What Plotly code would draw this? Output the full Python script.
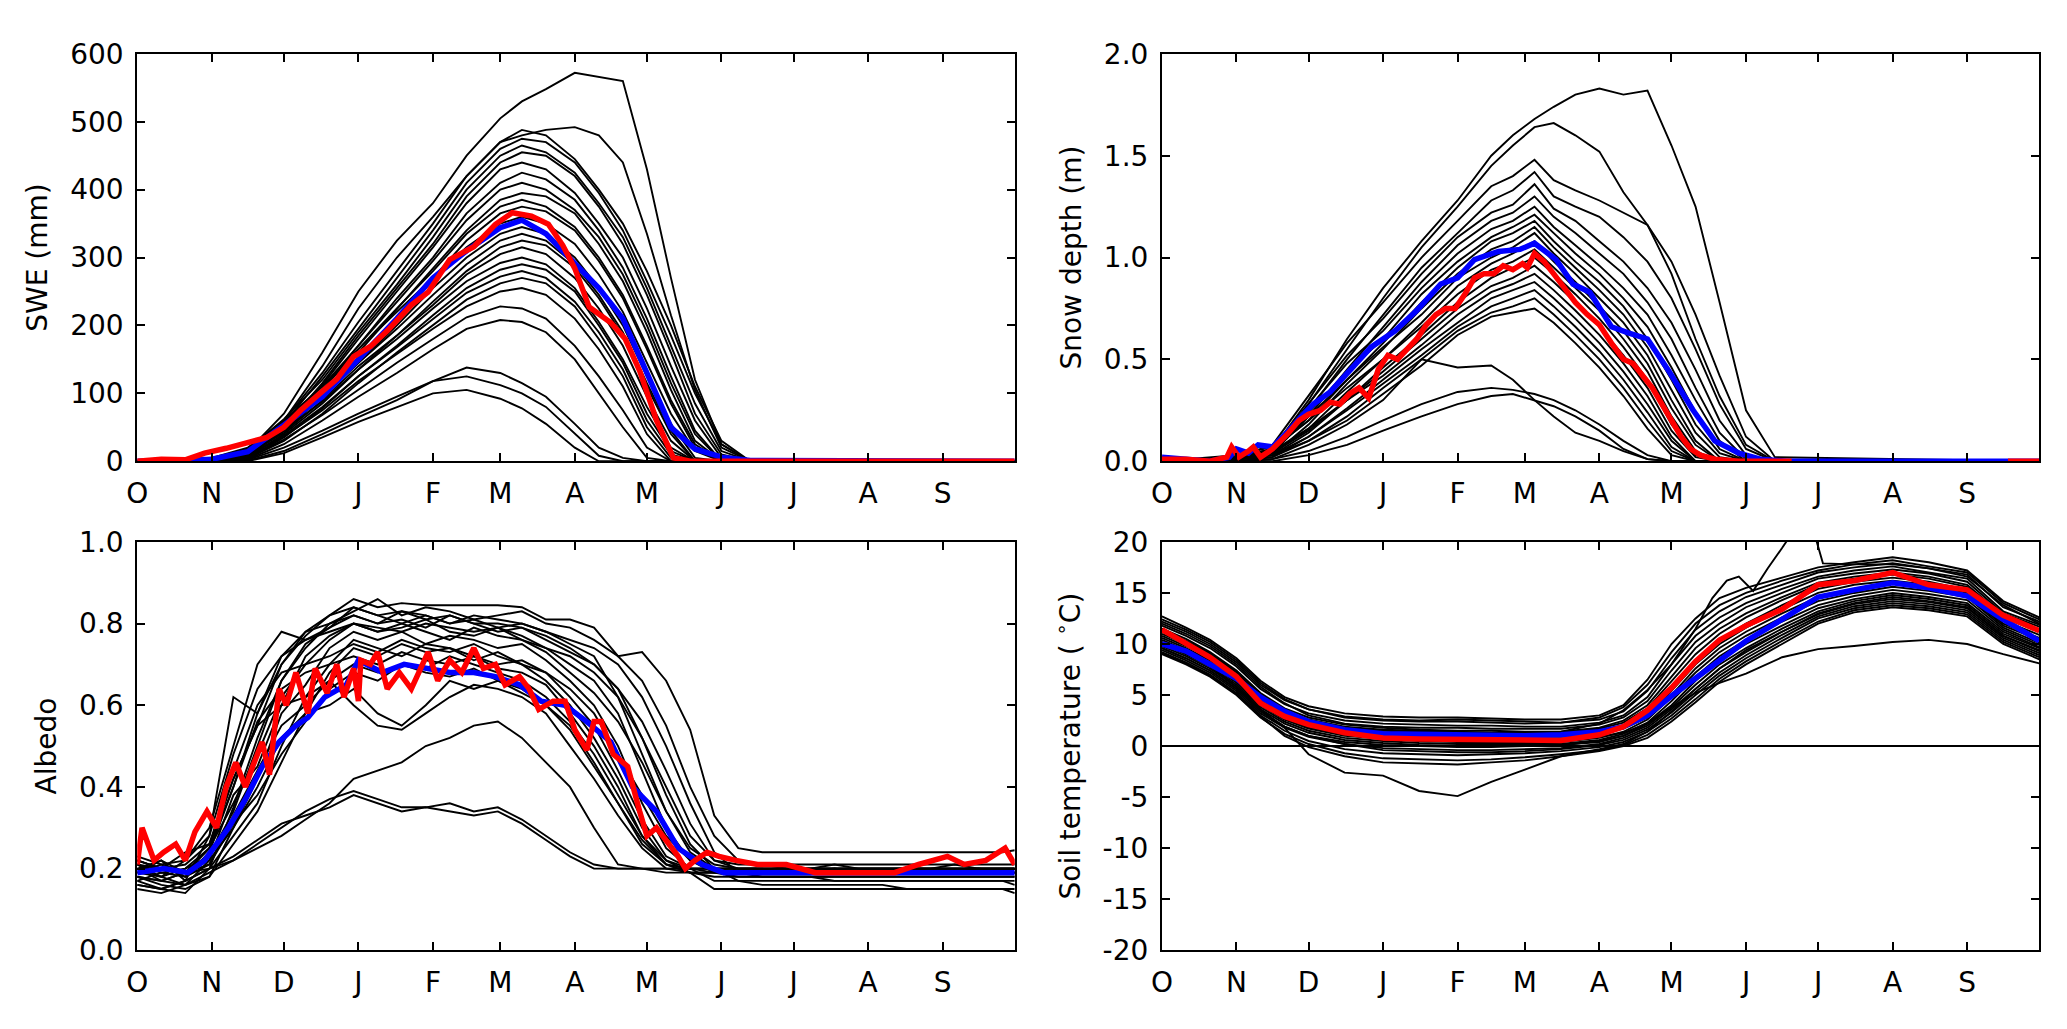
import plotly.graph_objects as go
from plotly.subplots import make_subplots

# hydrological year, day 0 = 1 October
month_days = [0, 31, 61, 92, 123, 151, 182, 212, 243, 273, 304, 335]
month_labels = ["O", "N", "D", "J", "F", "M", "A", "M", "J", "J", "A", "S"]

# ---------------- SWE (mm) ----------------
swe_days = [0, 31, 46, 61, 77, 92, 108, 123, 137, 151, 160, 170, 182, 192, 202, 212, 222, 232, 243, 255, 365]
swe_members = [
    [0, 2, 15, 70, 160, 250, 325, 380, 450, 505, 530, 548, 572, 566, 560, 430, 270, 120, 25, 0, 0],
    [0, 2, 12, 60, 140, 225, 300, 360, 420, 470, 480, 488, 492, 480, 440, 335, 215, 105, 20, 0, 0],
    [0, 3, 15, 60, 130, 205, 280, 350, 420, 470, 488, 480, 445, 400, 350, 280, 200, 110, 30, 0, 0],
    [0, 2, 12, 55, 125, 195, 270, 340, 410, 460, 475, 470, 440, 395, 340, 265, 185, 100, 25, 0, 0],
    [0, 4, 18, 62, 120, 190, 260, 330, 400, 450, 465, 455, 425, 380, 330, 255, 170, 85, 15, 0, 0],
    [0, 2, 10, 50, 115, 185, 255, 320, 390, 440, 455, 450, 420, 375, 320, 245, 160, 70, 10, 0, 0],
    [0, 3, 14, 55, 112, 180, 250, 315, 380, 430, 440, 430, 395, 350, 300, 225, 140, 60, 5, 0, 0],
    [0, 2, 10, 48, 105, 170, 240, 300, 365, 410, 425, 415, 385, 340, 285, 210, 125, 45, 0, 0, 0],
    [0, 5, 20, 58, 110, 170, 235, 295, 355, 400, 410, 400, 370, 330, 275, 200, 115, 40, 0, 0, 0],
    [0, 2, 12, 50, 100, 160, 225, 285, 340, 385, 395, 390, 365, 320, 265, 190, 105, 30, 0, 0, 0],
    [0, 3, 15, 55, 105, 165, 225, 280, 335, 375, 385, 375, 345, 300, 245, 170, 90, 25, 0, 0, 0],
    [0, 1, 8, 45, 95, 150, 210, 270, 325, 365, 375, 368, 340, 295, 240, 165, 85, 20, 0, 0, 0],
    [0, 4, 18, 60, 110, 165, 220, 270, 315, 350, 360, 350, 320, 275, 220, 145, 70, 15, 0, 0, 0],
    [0, 2, 10, 45, 95, 145, 200, 255, 300, 335, 345, 335, 300, 255, 200, 125, 55, 5, 0, 0, 0],
    [0, 3, 14, 50, 95, 145, 195, 245, 290, 325, 335, 325, 290, 245, 190, 115, 45, 0, 0, 0, 0],
    [0, 1, 6, 40, 85, 135, 185, 235, 280, 315, 325, 318, 285, 240, 185, 110, 40, 0, 0, 0, 0],
    [0, 2, 10, 42, 90, 140, 185, 230, 275, 305, 315, 305, 270, 225, 170, 95, 30, 0, 0, 0, 0],
    [0, 3, 12, 45, 88, 135, 180, 225, 265, 292, 300, 290, 255, 205, 150, 80, 20, 0, 0, 0, 0],
    [0, 1, 5, 35, 78, 125, 170, 215, 255, 282, 290, 282, 250, 200, 145, 70, 15, 0, 0, 0, 0],
    [0, 2, 8, 38, 80, 125, 168, 210, 248, 272, 280, 270, 235, 190, 135, 60, 10, 0, 0, 0, 0],
    [0, 0, 4, 30, 70, 115, 160, 200, 238, 262, 270, 262, 228, 180, 125, 50, 5, 0, 0, 0, 0],
    [0, 2, 9, 36, 75, 118, 158, 195, 228, 250, 255, 245, 210, 165, 110, 40, 0, 0, 0, 0, 0],
    [0, 1, 6, 32, 68, 105, 145, 180, 212, 228, 225, 210, 170, 125, 75, 20, 0, 0, 0, 0, 0],
    [0, 0, 3, 25, 60, 95, 130, 165, 195, 208, 205, 190, 150, 100, 50, 5, 0, 0, 0, 0, 0],
    [0, 0, 2, 20, 45, 70, 95, 118, 138, 130, 115, 95, 55, 20, 5, 0, 0, 0, 0, 0, 0],
    [0, 0, 1, 15, 40, 65, 90, 118, 125, 112, 100, 80, 40, 8, 0, 0, 0, 0, 0, 0, 0],
    [0, 0, 0, 12, 35, 58, 80, 100, 105, 92, 78, 55, 20, 0, 0, 0, 0, 0, 0, 0, 0],
]
swe_mean = [0, 3, 14, 52, 95, 150, 210, 270, 310, 344, 355, 335, 290, 255, 210, 130, 50, 18, 6, 1, 0]
swe_obs_days = [0, 10, 20, 28, 37, 45, 54, 61, 68, 76, 83, 90, 97, 104, 114, 121, 130, 140, 149, 156,
                164, 171, 177, 182, 188, 197, 203, 209, 216, 223, 230, 365]
swe_obs = [0, 3, 2, 12, 19, 26, 35, 50, 75, 100, 121, 154, 169, 192, 230, 249, 297, 316, 349, 366,
           361, 349, 318, 284, 227, 204, 180, 133, 60, 5, 0, 0]

# ---------------- Snow depth (m) ----------------
depth_days = [0, 31, 46, 61, 77, 92, 108, 123, 137, 146, 155, 163, 172, 182, 192, 202, 212, 222, 232, 243, 255, 365]
depth_members = [
    [0, 0.01, 0.06, 0.30, 0.60, 0.85, 1.08, 1.28, 1.50, 1.60, 1.68, 1.74, 1.80, 1.83, 1.80, 1.82, 1.55, 1.25, 0.78, 0.25, 0.02, 0],
    [0, 0.01, 0.05, 0.28, 0.55, 0.80, 1.05, 1.25, 1.45, 1.55, 1.64, 1.66, 1.60, 1.52, 1.32, 1.16, 0.92, 0.60, 0.32, 0.08, 0, 0],
    [0, 0.02, 0.08, 0.32, 0.58, 0.78, 1.00, 1.18, 1.35, 1.40, 1.48, 1.38, 1.33, 1.28, 1.22, 1.16, 0.98, 0.72, 0.42, 0.12, 0, 0],
    [0, 0.01, 0.05, 0.25, 0.50, 0.72, 0.95, 1.12, 1.28, 1.33, 1.42, 1.30, 1.25, 1.20, 1.10, 0.98, 0.80, 0.55, 0.28, 0.06, 0, 0],
    [0, 0.02, 0.06, 0.28, 0.52, 0.70, 0.92, 1.10, 1.22, 1.26, 1.36, 1.24, 1.18, 1.08, 0.98, 0.85, 0.68, 0.45, 0.20, 0.03, 0, 0],
    [0, 0.01, 0.04, 0.22, 0.45, 0.66, 0.88, 1.06, 1.18, 1.22, 1.30, 1.20, 1.12, 1.02, 0.92, 0.78, 0.60, 0.36, 0.14, 0.01, 0, 0],
    [0, 0.03, 0.07, 0.26, 0.48, 0.64, 0.85, 1.02, 1.14, 1.18, 1.25, 1.15, 1.06, 0.96, 0.85, 0.72, 0.52, 0.30, 0.10, 0, 0, 0],
    [0, 0.01, 0.05, 0.24, 0.44, 0.60, 0.82, 0.98, 1.10, 1.15, 1.21, 1.12, 1.02, 0.92, 0.80, 0.66, 0.46, 0.24, 0.06, 0, 0, 0],
    [0, 0.02, 0.06, 0.20, 0.40, 0.58, 0.78, 0.95, 1.08, 1.12, 1.18, 1.08, 0.98, 0.88, 0.76, 0.60, 0.40, 0.18, 0.04, 0, 0, 0],
    [0, 0.01, 0.03, 0.18, 0.38, 0.55, 0.75, 0.92, 1.04, 1.08, 1.15, 1.05, 0.95, 0.84, 0.72, 0.56, 0.35, 0.14, 0.02, 0, 0, 0],
    [0, 0.02, 0.05, 0.22, 0.40, 0.56, 0.72, 0.90, 1.00, 1.05, 1.12, 1.02, 0.92, 0.80, 0.68, 0.52, 0.30, 0.10, 0, 0, 0, 0],
    [0, 0.01, 0.04, 0.16, 0.34, 0.50, 0.68, 0.86, 0.97, 1.02, 1.08, 0.98, 0.88, 0.76, 0.64, 0.48, 0.26, 0.08, 0, 0, 0, 0],
    [0, 0.02, 0.06, 0.20, 0.36, 0.50, 0.66, 0.82, 0.94, 0.98, 1.04, 0.95, 0.85, 0.74, 0.60, 0.44, 0.22, 0.05, 0, 0, 0, 0],
    [0, 0.01, 0.03, 0.14, 0.30, 0.46, 0.62, 0.78, 0.90, 0.95, 1.00, 0.92, 0.82, 0.70, 0.56, 0.40, 0.18, 0.03, 0, 0, 0, 0],
    [0, 0.01, 0.04, 0.15, 0.30, 0.44, 0.60, 0.75, 0.86, 0.90, 0.96, 0.88, 0.78, 0.66, 0.52, 0.36, 0.15, 0.02, 0, 0, 0, 0],
    [0, 0.02, 0.05, 0.16, 0.30, 0.42, 0.57, 0.72, 0.83, 0.87, 0.92, 0.84, 0.74, 0.62, 0.48, 0.32, 0.12, 0, 0, 0, 0, 0],
    [0, 0.01, 0.02, 0.12, 0.26, 0.40, 0.55, 0.68, 0.80, 0.84, 0.88, 0.80, 0.70, 0.58, 0.44, 0.28, 0.10, 0, 0, 0, 0, 0],
    [0, 0.01, 0.03, 0.12, 0.25, 0.38, 0.52, 0.66, 0.76, 0.80, 0.84, 0.76, 0.66, 0.54, 0.40, 0.24, 0.07, 0, 0, 0, 0, 0],
    [0, 0.00, 0.02, 0.10, 0.22, 0.36, 0.50, 0.64, 0.73, 0.76, 0.80, 0.72, 0.62, 0.50, 0.36, 0.20, 0.05, 0, 0, 0, 0, 0],
    [0, 0.01, 0.03, 0.10, 0.20, 0.33, 0.47, 0.62, 0.71, 0.73, 0.75, 0.68, 0.58, 0.46, 0.32, 0.16, 0.03, 0, 0, 0, 0, 0],
    [0, 0, 0.01, 0.08, 0.18, 0.30, 0.50, 0.46, 0.47, 0.40, 0.30, 0.22, 0.14, 0.10, 0.05, 0.01, 0, 0, 0, 0, 0, 0],
    [0, 0, 0.01, 0.05, 0.12, 0.20, 0.28, 0.34, 0.36, 0.35, 0.33, 0.30, 0.25, 0.18, 0.10, 0.03, 0, 0, 0, 0, 0, 0],
    [0, 0, 0, 0.03, 0.08, 0.15, 0.22, 0.28, 0.32, 0.33, 0.30, 0.27, 0.22, 0.15, 0.06, 0.01, 0, 0, 0, 0, 0, 0],
]
depth_mean_days = [0, 8, 20, 28, 31, 36, 40, 46, 52, 58, 63, 70, 76, 87, 97, 106, 116, 123, 130, 140,
                   149, 155, 164, 171, 178, 187, 194, 202, 211, 221, 230, 240, 249, 260, 365]
depth_mean = [0.02, 0.01, 0.0, 0.02, 0.06, 0.04, 0.08, 0.07, 0.14, 0.22, 0.28, 0.34, 0.42, 0.56, 0.64,
              0.74, 0.87, 0.90, 0.99, 1.03, 1.04, 1.07, 0.99, 0.87, 0.83, 0.66, 0.63, 0.60, 0.44, 0.25,
              0.10, 0.04, 0.01, 0.0, 0.0]
depth_obs_days = [0, 10, 20, 27, 29, 32, 36, 38, 41, 46, 52, 57, 61, 66, 70, 74, 78, 82, 86, 90,
                  94, 98, 102, 106, 110, 114, 118, 122, 126, 130, 134, 138, 142, 146, 150, 152, 155, 159,
                  163, 167, 172, 177, 182, 187, 192, 196, 200, 204, 208, 212, 216, 220, 224, 230, 240,
                  262, 263, 352, 365]
depth_obs = [0.01, 0.01, 0.0, 0.02, 0.07, 0.02, 0.05, 0.07, 0.02, 0.06, 0.13, 0.20, 0.23, 0.25, 0.29,
             0.28, 0.33, 0.36, 0.31, 0.45, 0.52, 0.50, 0.55, 0.60, 0.67, 0.72, 0.75, 0.75, 0.82, 0.90,
             0.92, 0.92, 0.96, 0.94, 0.97, 0.95, 1.02, 0.98, 0.92, 0.86, 0.78, 0.72, 0.67, 0.58, 0.50,
             0.48, 0.42, 0.36, 0.28, 0.20, 0.12, 0.06, 0.03, 0.01, 0.0, 0.0, None, 0.0, 0.0]

# ---------------- Albedo ----------------
albedo_days = [0, 10, 20, 30, 40, 50, 60, 70, 80, 90, 100, 110, 120, 130, 140, 150, 160, 170, 180,
               190, 200, 210, 220, 230, 240, 250, 260, 270, 280, 290, 300, 310, 320, 330, 340, 350,
               360, 365]
albedo_members = [
    [0.22, 0.20, 0.19, 0.25, 0.42, 0.55, 0.70, 0.78, 0.82, 0.86, 0.84, 0.85, 0.845, 0.845, 0.845, 0.845, 0.84, 0.81, 0.81, 0.79,
     0.72, 0.73, 0.66, 0.54, 0.33, 0.25, 0.24, 0.24, 0.24, 0.24, 0.24, 0.24, 0.24, 0.24, 0.24, 0.24, 0.24, 0.245],
    [0.19, 0.22, 0.17, 0.28, 0.62, 0.58, 0.72, 0.78, 0.80, 0.83, 0.86, 0.82, 0.84, 0.83, 0.81, 0.82, 0.83, 0.80, 0.79, 0.76,
     0.72, 0.66, 0.55, 0.40, 0.28, 0.22, 0.21, 0.20, 0.20, 0.21, 0.20, 0.20, 0.20, 0.20, 0.21, 0.20, 0.20, 0.20],
    [0.17, 0.15, 0.14, 0.20, 0.35, 0.52, 0.66, 0.75, 0.79, 0.82, 0.80, 0.81, 0.79, 0.82, 0.80, 0.78, 0.79, 0.77, 0.74, 0.70,
     0.64, 0.52, 0.38, 0.26, 0.20, 0.17, 0.16, 0.16, 0.16, 0.16, 0.16, 0.16, 0.15, 0.15, 0.15, 0.15, 0.15, 0.15],
    [0.21, 0.18, 0.22, 0.30, 0.50, 0.70, 0.78, 0.76, 0.79, 0.84, 0.82, 0.80, 0.82, 0.80, 0.81, 0.79, 0.80, 0.78, 0.75, 0.72,
     0.62, 0.48, 0.34, 0.25, 0.21, 0.20, 0.20, 0.19, 0.19, 0.20, 0.19, 0.19, 0.19, 0.19, 0.19, 0.20, 0.19, 0.19],
    [0.20, 0.17, 0.19, 0.22, 0.38, 0.45, 0.60, 0.72, 0.77, 0.80, 0.78, 0.79, 0.81, 0.78, 0.77, 0.79, 0.76, 0.74, 0.70, 0.66,
     0.58, 0.44, 0.30, 0.22, 0.19, 0.18, 0.18, 0.18, 0.18, 0.18, 0.18, 0.18, 0.18, 0.18, 0.18, 0.18, 0.18, 0.18],
    [0.18, 0.16, 0.15, 0.18, 0.30, 0.42, 0.58, 0.65, 0.74, 0.78, 0.76, 0.78, 0.75, 0.77, 0.76, 0.74, 0.75, 0.71, 0.66, 0.60,
     0.50, 0.36, 0.25, 0.20, 0.17, 0.17, 0.17, 0.17, 0.17, 0.17, 0.17, 0.17, 0.17, 0.17, 0.17, 0.17, 0.17, 0.17],
    [0.22, 0.20, 0.24, 0.26, 0.44, 0.60, 0.68, 0.70, 0.72, 0.75, 0.73, 0.76, 0.74, 0.73, 0.75, 0.72, 0.70, 0.68, 0.62, 0.55,
     0.44, 0.32, 0.23, 0.20, 0.20, 0.20, 0.20, 0.20, 0.20, 0.20, 0.20, 0.20, 0.20, 0.20, 0.20, 0.20, 0.20, 0.20],
    [0.19, 0.21, 0.18, 0.24, 0.40, 0.56, 0.64, 0.68, 0.70, 0.72, 0.70, 0.73, 0.71, 0.70, 0.72, 0.69, 0.68, 0.65, 0.58, 0.50,
     0.40, 0.28, 0.21, 0.20, 0.19, 0.19, 0.19, 0.19, 0.19, 0.19, 0.19, 0.19, 0.19, 0.19, 0.19, 0.19, 0.19, 0.19],
    [0.16, 0.15, 0.17, 0.20, 0.28, 0.36, 0.50, 0.62, 0.70, 0.76, 0.74, 0.72, 0.75, 0.74, 0.71, 0.73, 0.70, 0.66, 0.60, 0.52,
     0.42, 0.30, 0.22, 0.19, 0.18, 0.18, 0.18, 0.18, 0.18, 0.18, 0.18, 0.18, 0.18, 0.18, 0.18, 0.18, 0.18, 0.18],
    [0.21, 0.19, 0.20, 0.25, 0.36, 0.48, 0.62, 0.70, 0.76, 0.80, 0.78, 0.80, 0.78, 0.76, 0.79, 0.77, 0.76, 0.73, 0.68, 0.63,
     0.56, 0.46, 0.34, 0.24, 0.20, 0.19, 0.19, 0.19, 0.19, 0.19, 0.19, 0.19, 0.19, 0.19, 0.19, 0.19, 0.19, 0.19],
    [0.20, 0.22, 0.19, 0.21, 0.33, 0.44, 0.55, 0.60, 0.66, 0.70, 0.68, 0.70, 0.69, 0.72, 0.70, 0.68, 0.66, 0.62, 0.56, 0.48,
     0.38, 0.28, 0.22, 0.20, 0.20, 0.20, 0.20, 0.20, 0.20, 0.20, 0.20, 0.20, 0.20, 0.20, 0.20, 0.20, 0.20, 0.20],
    [0.18, 0.17, 0.16, 0.22, 0.30, 0.40, 0.52, 0.58, 0.60, 0.64, 0.58, 0.55, 0.60, 0.66, 0.64, 0.66, 0.63, 0.60, 0.55, 0.46,
     0.36, 0.26, 0.21, 0.19, 0.19, 0.19, 0.19, 0.19, 0.19, 0.19, 0.19, 0.19, 0.19, 0.19, 0.19, 0.19, 0.19, 0.19],
    [0.22, 0.20, 0.21, 0.26, 0.42, 0.55, 0.60, 0.62, 0.66, 0.60, 0.55, 0.54, 0.58, 0.62, 0.65, 0.64, 0.62, 0.58, 0.50, 0.42,
     0.33, 0.25, 0.20, 0.19, 0.19, 0.19, 0.19, 0.19, 0.19, 0.19, 0.19, 0.19, 0.19, 0.19, 0.19, 0.19, 0.19, 0.19],
    [0.19, 0.18, 0.20, 0.23, 0.34, 0.50, 0.66, 0.74, 0.80, 0.82, 0.80, 0.83, 0.82, 0.80, 0.82, 0.81, 0.80, 0.78, 0.76, 0.74,
     0.70, 0.62, 0.50, 0.36, 0.24, 0.19, 0.18, 0.18, 0.18, 0.17, 0.17, 0.17, 0.17, 0.17, 0.17, 0.17, 0.17, 0.16],
    [0.20, 0.18, 0.16, 0.18, 0.26, 0.34, 0.46, 0.58, 0.68, 0.74, 0.72, 0.75, 0.73, 0.74, 0.72, 0.70, 0.71, 0.68, 0.64, 0.58,
     0.48, 0.38, 0.28, 0.22, 0.20, 0.20, 0.20, 0.20, 0.20, 0.20, 0.20, 0.20, 0.20, 0.20, 0.20, 0.20, 0.20, 0.20],
    [0.23, 0.21, 0.22, 0.28, 0.48, 0.64, 0.72, 0.76, 0.78, 0.80, 0.79, 0.78, 0.80, 0.79, 0.78, 0.79, 0.77, 0.74, 0.72, 0.68,
     0.62, 0.52, 0.40, 0.28, 0.22, 0.21, 0.21, 0.21, 0.21, 0.21, 0.21, 0.21, 0.21, 0.21, 0.21, 0.21, 0.21, 0.21],
    [0.17, 0.19, 0.18, 0.21, 0.31, 0.38, 0.48, 0.56, 0.64, 0.68, 0.66, 0.70, 0.68, 0.67, 0.69, 0.66, 0.64, 0.60, 0.54, 0.45,
     0.36, 0.27, 0.21, 0.19, 0.15, 0.15, 0.15, 0.15, 0.15, 0.15, 0.15, 0.15, 0.15, 0.15, 0.15, 0.15, 0.15, 0.14],
    [0.21, 0.20, 0.19, 0.25, 0.40, 0.58, 0.70, 0.77, 0.82, 0.84, 0.82, 0.83, 0.81, 0.82, 0.80, 0.80, 0.79, 0.76, 0.73, 0.70,
     0.64, 0.56, 0.44, 0.31, 0.22, 0.20, 0.20, 0.20, 0.20, 0.20, 0.20, 0.20, 0.20, 0.20, 0.20, 0.20, 0.20, 0.20],
    [0.15, 0.14, 0.16, 0.19, 0.22, 0.26, 0.30, 0.34, 0.37, 0.39, 0.37, 0.35, 0.35, 0.36, 0.34, 0.35, 0.32, 0.28, 0.24, 0.21,
     0.20, 0.20, 0.19, 0.19, 0.19, 0.19, 0.19, 0.19, 0.19, 0.19, 0.19, 0.19, 0.19, 0.19, 0.19, 0.19, 0.19, 0.19],
    [0.16, 0.15, 0.17, 0.20, 0.23, 0.27, 0.31, 0.33, 0.35, 0.38, 0.36, 0.34, 0.35, 0.34, 0.33, 0.34, 0.31, 0.27, 0.23, 0.20,
     0.20, 0.20, 0.20, 0.20, 0.20, 0.20, 0.20, 0.20, 0.20, 0.20, 0.20, 0.20, 0.20, 0.20, 0.20, 0.20, 0.20, 0.20],
    [0.18, 0.17, 0.19, 0.20, 0.22, 0.25, 0.28, 0.32, 0.36, 0.42, 0.44, 0.46, 0.50, 0.52, 0.55, 0.56, 0.52, 0.46, 0.40, 0.30,
     0.21, 0.20, 0.20, 0.20, 0.20, 0.20, 0.20, 0.20, 0.20, 0.20, 0.20, 0.20, 0.20, 0.20, 0.20, 0.20, 0.20, 0.20],
]
albedo_mean_days = [0, 11, 21, 28, 38, 45, 52, 59, 66, 71, 78, 87, 92, 102, 111, 121, 130, 140, 149,
                    159, 168, 178, 187, 197, 206, 216, 225, 235, 244, 259, 365]
albedo_mean = [0.19, 0.20, 0.19, 0.22, 0.30, 0.37, 0.45, 0.51, 0.55, 0.57, 0.62, 0.65, 0.71, 0.68,
               0.70, 0.69, 0.68, 0.68, 0.67, 0.65, 0.61, 0.60, 0.56, 0.51, 0.40, 0.34, 0.25, 0.21, 0.19,
               0.19, 0.19]
albedo_obs_days = [0, 2, 7, 11, 16, 20, 24, 29, 33, 37, 41, 45, 48, 52, 55, 59, 62, 66, 71, 74, 79,
                   83, 86, 90, 92, 93, 97, 100, 104, 109, 114, 121, 125, 130, 135, 140, 144, 149, 153,
                   159, 163, 167, 173, 178, 182, 187, 190, 193, 198, 204, 209, 212, 216, 220, 225, 228,
                   232, 237, 242, 249, 258, 270, 282, 294, 306, 315, 325, 337, 344, 353, 361, 365]
albedo_obs = [0.21, 0.30, 0.22, 0.24, 0.26, 0.22, 0.29, 0.34, 0.30, 0.40, 0.46, 0.40, 0.45, 0.51,
              0.43, 0.64, 0.60, 0.68, 0.58, 0.69, 0.63, 0.70, 0.62, 0.69, 0.61, 0.71, 0.70, 0.73,
              0.64, 0.68, 0.64, 0.73, 0.66, 0.71, 0.68, 0.74, 0.69, 0.70, 0.65, 0.67, 0.64, 0.59,
              0.61, 0.61, 0.54, 0.49, 0.56, 0.56, 0.48, 0.45, 0.34, 0.28, 0.30, 0.27, 0.23, 0.20,
              0.22, 0.24, 0.23, 0.22, 0.21, 0.21, 0.19, 0.19, 0.19, 0.19, 0.21, 0.23, 0.21, 0.22,
              0.25, 0.21]

# ---------------- Soil temperature (deg C) ----------------
soil_days = [0, 10, 20, 31, 41, 51, 61, 76, 92, 107, 123, 137, 151, 166, 182, 192, 202, 212, 222, 232,
             243, 258, 273, 288, 304, 319, 335, 350, 365]
soil_members = [
    [12.7, 11.6, 10.4, 8.6, 6.4, 4.8, 3.9, 3.2, 2.9, 2.8, 2.8, 2.7, 2.6, 2.6, 3.0, 4.0, 6.5, 10.0, 12.5, 14.5, 15.5, 16.5, 17.5, 18.0, 18.5, 18.0, 17.2, 14.2, 12.6],
    [12.4, 11.4, 10.2, 8.4, 6.2, 4.6, 3.6, 2.8, 2.5, 2.4, 2.4, 2.3, 2.2, 2.3, 2.8, 3.8, 6.0, 9.2, 12.0, 13.8, 15.0, 16.2, 17.2, 17.8, 18.2, 17.6, 17.0, 14.0, 12.4],
    [12.2, 11.2, 10.0, 8.2, 6.0, 4.5, 3.6, 2.9, 2.6, 2.5, 2.6, 2.5, 2.4, 2.3, 2.6, 3.4, 5.4, 8.6, 11.4, 13.2, 14.6, 15.8, 17.0, 17.5, 17.9, 17.4, 16.8, 13.6, 12.2],
    [11.8, 10.8, 9.6, 7.8, 5.6, 4.1, 3.2, 2.5, 2.2, 2.1, 2.0, 2.0, 1.9, 1.9, 2.3, 3.0, 4.8, 8.0, 10.8, 12.6, 14.0, 15.4, 16.6, 17.2, 17.6, 17.0, 16.4, 13.2, 11.9],
    [12.0, 11.0, 9.8, 8.0, 5.8, 4.2, 3.0, 2.2, 1.9, 1.8, 1.8, 1.7, 1.7, 1.7, 2.1, 2.8, 4.4, 7.4, 10.2, 12.0, 13.6, 15.0, 16.4, 16.9, 17.3, 16.9, 16.1, 13.0, 11.7],
    [11.5, 10.5, 9.2, 7.4, 5.2, 3.7, 2.8, 2.1, 1.8, 1.6, 1.5, 1.5, 1.4, 1.4, 1.8, 2.5, 4.0, 6.8, 9.6, 11.5, 13.0, 14.6, 16.0, 16.6, 17.0, 16.6, 15.8, 12.8, 11.4],
    [11.3, 10.3, 9.1, 7.3, 5.1, 3.5, 2.6, 1.9, 1.6, 1.5, 1.4, 1.3, 1.3, 1.3, 1.7, 2.3, 3.7, 6.4, 9.0, 11.0, 12.6, 14.3, 15.8, 16.4, 16.8, 16.4, 15.6, 12.6, 11.2],
    [11.0, 10.0, 8.8, 7.0, 4.8, 3.3, 2.4, 1.7, 1.3, 1.2, 1.1, 1.0, 1.0, 1.0, 1.4, 2.0, 3.3, 5.8, 8.4, 10.4, 12.0, 13.8, 15.4, 16.1, 16.5, 16.1, 15.3, 12.3, 10.9],
    [10.6, 9.6, 8.4, 6.6, 4.4, 2.9, 2.0, 1.3, 1.0, 0.9, 0.8, 0.7, 0.7, 0.7, 1.1, 1.8, 3.0, 5.4, 8.0, 10.0, 11.6, 13.4, 15.0, 15.8, 16.2, 15.8, 15.0, 12.0, 10.6],
    [10.8, 9.8, 8.6, 6.8, 4.6, 3.0, 2.1, 1.5, 1.2, 1.1, 1.0, 1.0, 0.9, 0.9, 1.2, 1.7, 2.8, 5.0, 7.6, 9.6, 11.2, 13.0, 14.6, 15.4, 15.9, 15.5, 14.8, 11.8, 10.4],
    [10.2, 9.2, 8.0, 6.2, 4.0, 2.6, 1.7, 1.0, 0.7, 0.5, 0.4, 0.3, 0.3, 0.4, 0.8, 1.4, 2.6, 4.8, 7.2, 9.2, 10.8, 12.6, 14.2, 15.0, 15.6, 15.2, 14.6, 11.6, 10.1],
    [10.0, 9.0, 7.8, 6.0, 3.8, 2.4, 1.5, 0.8, 0.5, 0.3, 0.2, 0.2, 0.2, 0.2, 0.6, 1.2, 2.3, 4.4, 6.8, 8.8, 10.4, 12.2, 13.8, 14.7, 15.3, 14.9, 14.3, 11.4, 9.9],
    [10.4, 9.4, 8.2, 6.4, 4.2, 2.7, 1.8, 1.1, 0.8, 0.6, 0.5, 0.5, 0.4, 0.5, 0.9, 1.3, 2.2, 4.0, 6.4, 8.4, 10.0, 11.8, 13.5, 14.4, 15.0, 14.6, 14.0, 11.2, 9.7],
    [9.8, 8.8, 7.6, 5.8, 3.6, 2.2, 1.3, 0.6, 0.3, 0.1, 0.0, 0.0, 0.0, 0.1, 0.5, 1.0, 2.0, 3.8, 6.0, 8.0, 9.6, 11.5, 13.2, 14.2, 14.8, 14.4, 13.8, 11.0, 9.6],
    [10.0, 9.0, 7.8, 5.8, 3.6, 1.8, -0.8, -2.6, -2.9, -4.4, -4.9, -3.5, -2.3, -1.0, -0.3, 0.2, 1.4, 3.4, 5.6, 7.6, 9.4, 11.2, 13.0, 14.0, 14.6, 14.2, 13.6, 10.8, 9.4],
    [9.4, 8.4, 7.2, 5.4, 3.2, 1.8, 0.9, 0.2, -0.2, -0.3, -0.4, -0.4, -0.3, -0.2, 0.2, 0.8, 1.8, 3.6, 5.6, 7.6, 9.2, 11.2, 12.9, 13.9, 14.4, 14.1, 13.5, 10.8, 9.3],
    [9.6, 8.6, 7.4, 5.6, 3.4, 1.9, 1.0, 0.2, -0.4, -0.5, -0.6, -0.6, -0.5, -0.3, 0.1, 0.6, 1.6, 3.3, 5.3, 7.2, 8.9, 10.9, 12.7, 13.7, 14.2, 13.9, 13.3, 10.6, 9.1],
    [9.2, 8.2, 7.0, 5.2, 3.0, 1.5, 0.5, -0.3, -0.7, -0.8, -0.9, -0.8, -0.7, -0.5, -0.1, 0.4, 1.4, 3.0, 5.0, 6.9, 8.6, 10.6, 12.5, 13.5, 14.0, 13.7, 13.1, 10.4, 8.9],
    [9.0, 8.0, 6.8, 5.0, 2.8, 1.2, 0.2, -0.7, -1.2, -1.3, -1.4, -1.3, -1.1, -0.8, -0.4, 0.1, 1.1, 2.7, 4.6, 6.6, 8.3, 10.3, 12.2, 13.3, 13.8, 13.5, 12.9, 10.2, 8.7],
    [9.1, 8.1, 6.9, 5.1, 2.9, 1.0, -0.1, -1.0, -1.6, -1.7, -1.8, -1.6, -1.4, -1.0, -0.5, 0.0, 0.8, 2.4, 4.3, 6.3, 8.0, 10.0, 12.0, 13.1, 13.6, 13.3, 12.7, 10.0, 8.5],
    [9.6, 8.6, 7.4, 5.6, 3.4, 1.9, 1.0, 0.4, 0.1, 0.0, -0.1, -0.1, 0.0, 0.1, 0.4, 1.0, 2.2, 3.8, 5.2, 6.2, 7.1, 8.7, 9.5, 9.8, 10.2, 10.4, 10.0, 9.0, 8.1],
]
# one member overheats in early summer and leaves the axis range
soil_hot_days = [0, 10, 20, 31, 41, 51, 61, 76, 92, 107, 123, 137, 151, 166, 182, 192, 202, 212,
                 222, 229, 235, 240, 246, 252, 258, 264, 270, 275, 288, 304, 319, 335, 350, 365]
soil_hot = [11.2, 10.2, 9.0, 7.2, 5.0, 3.4, 2.5, 1.8, 1.5, 1.4, 1.3, 1.2, 1.2, 1.4, 2.2, 3.5, 5.5,
            8.0, 11.5, 14.5, 16.2, 16.6, 15.2, 17.4, 19.4, 21.5, 22.0, 17.9, 17.8, 17.8, 17.4, 16.6,
            13.8, 12.0]
soil_mean = [10.0, 9.3, 8.0, 6.6, 4.8, 3.4, 2.4, 1.6, 1.2, 1.15, 1.1, 1.0, 1.0, 1.1, 1.4, 1.9, 3.0,
             4.9, 6.6, 8.4, 10.3, 12.4, 14.6, 15.3, 16.0, 15.5, 14.7, 12.4, 10.3]
soil_obs = [11.4, 10.1, 8.7, 6.8, 4.2, 2.9, 2.1, 1.3, 0.8, 0.7, 0.66, 0.57, 0.52, 0.55, 1.1, 1.9, 3.5,
            5.7, 8.3, 10.4, 11.8, 13.4, 15.8, 16.2, 17.0, 15.8, 15.3, 12.8, 11.3]
soil_ticks = [-20, -15, -10, -5, 0, 5, 10, 15, 20]
soil_ticktext = ["-20", "-15", "-10", "-5", "0", "5", "10", "15", "20"]

FONT = "DejaVu Sans"
BLACK_W = 1.9
THICK_W = 5.5


def add_panel(fig, row, col, days, members, mean_x, mean_y, obs_x, obs_y):
    for m in members:
        fig.add_trace(go.Scatter(x=days, y=m, mode="lines", hoverinfo="skip",
                                 line=dict(color="black", width=BLACK_W)), row=row, col=col)
    fig.add_trace(go.Scatter(x=mean_x, y=mean_y, mode="lines", hoverinfo="skip",
                             line=dict(color="#0000ff", width=THICK_W)), row=row, col=col)
    fig.add_trace(go.Scatter(x=obs_x, y=obs_y, mode="lines", hoverinfo="skip", connectgaps=False,
                             line=dict(color="#ff0000", width=THICK_W)), row=row, col=col)


fig = make_subplots(rows=2, cols=2)

add_panel(fig, 1, 1, swe_days, swe_members, swe_days, swe_mean, swe_obs_days, swe_obs)
add_panel(fig, 1, 2, depth_days, depth_members, depth_mean_days, depth_mean, depth_obs_days, depth_obs)
add_panel(fig, 2, 1, albedo_days, albedo_members, albedo_mean_days, albedo_mean, albedo_obs_days, albedo_obs)

# soil temperature: zero line first, then members
fig.add_trace(go.Scatter(x=[0, 365], y=[0, 0], mode="lines", hoverinfo="skip",
                         line=dict(color="black", width=2)), row=2, col=2)
fig.add_trace(go.Scatter(x=soil_hot_days, y=soil_hot, mode="lines", hoverinfo="skip",
                         line=dict(color="black", width=BLACK_W)), row=2, col=2)
add_panel(fig, 2, 2, soil_days, soil_members, soil_days, soil_mean, soil_days, soil_obs)

axis_common = dict(showline=True, linecolor="black", linewidth=2, mirror="ticks",
                   ticks="inside", ticklen=8, tickwidth=1.5, tickcolor="black",
                   showgrid=False, zeroline=False,
                   tickfont=dict(family=FONT, size=28, color="black"))

fig.update_xaxes(**axis_common, range=[0, 365], tickmode="array",
                 tickvals=month_days, ticktext=month_labels, ticklabelstandoff=6)
fig.update_yaxes(**axis_common, ticklabelstandoff=6)

top = [0.553, 0.962]
bottom = [0.062, 0.472]
left = [0.0614, 0.4882]
right = [0.5598, 0.9865]

title_font = dict(family=FONT, size=28, color="black")
fig.update_layout(
    width=2067, height=1029,
    margin=dict(l=0, r=0, t=0, b=0),
    paper_bgcolor="white", plot_bgcolor="white",
    showlegend=False,
    xaxis=dict(domain=left), xaxis2=dict(domain=right),
    xaxis3=dict(domain=left), xaxis4=dict(domain=right),
    yaxis=dict(domain=top, range=[0, 600], tickvals=[0, 100, 200, 300, 400, 500, 600],
               title=dict(text="SWE (mm)", font=title_font, standoff=14)),
    yaxis2=dict(domain=top, range=[0, 2.0], tickvals=[0, 0.5, 1.0, 1.5, 2.0], tickformat=".1f",
                title=dict(text="Snow depth (m)", font=title_font, standoff=14)),
    yaxis3=dict(domain=bottom, range=[0, 1.0], tickvals=[0, 0.2, 0.4, 0.6, 0.8, 1.0], tickformat=".1f",
                title=dict(text="Albedo", font=title_font, standoff=14)),
    yaxis4=dict(domain=bottom, range=[-20, 20], tickmode="array", tickvals=soil_ticks,
                ticktext=soil_ticktext,
                title=dict(text="Soil temperature ( <sup>∘</sup>C)", font=title_font, standoff=14)),
)

fig.write_html("out.html", config={"displayModeBar": False},
               post_script="document.body.style.margin='0';")
